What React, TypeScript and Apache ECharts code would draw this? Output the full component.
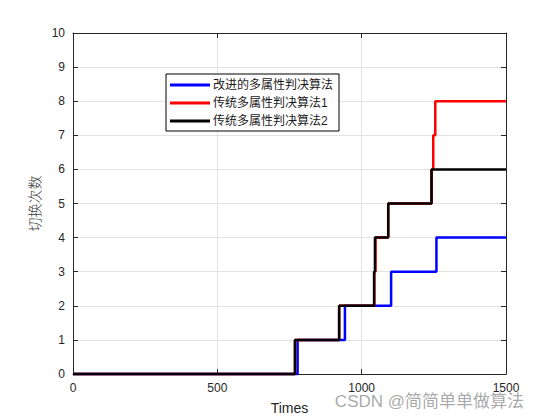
import React, { useEffect, useRef } from "react";
import * as echarts from "echarts";

const seriesNames = ["改进的多属性判决算法", "传统多属性判决算法1", "传统多属性判决算法2"];
const seriesColors = ["#0000ff", "#ff0000", "#000000"];

const blueTimes = [0, 778, 942, 1102, 1259, 1500];
const blueCounts = [0, 1, 2, 3, 4, 4];

const redTimes = [0, 769, 922, 1044, 1048, 1092, 1242, 1248, 1255, 1500];
const redCounts = [0, 1, 2, 3, 4, 5, 6, 7, 8, 8];

const blackTimes = [0, 769, 922, 1043, 1046, 1092, 1242, 1500];
const blackCounts = [0, 1, 2, 3, 4, 5, 6, 6];

const xTicks = [0, 500, 1000, 1500];
const yTicks = [0, 1, 2, 3, 4, 5, 6, 7, 8, 9, 10];

const xName = "Times";
const yName = "切换次数";
const watermark = "CSDN @简简单单做算法";

const zip = (xs: number[], ys: number[]) => xs.map((x, i) => [x, ys[i]]);

export default function App() {
  const ref = useRef<HTMLDivElement>(null);
  useEffect(() => {
    if (!ref.current) return;
    const chart = echarts.init(ref.current, undefined, { renderer: "svg" });
    const axisColor = "#262626";
    const gridColor = "#e3e3e3";
    const font = "Liberation Sans, Arial, Noto Sans CJK SC, sans-serif";
    const xMin = xTicks[0];
    const xMax = xTicks[xTicks.length - 1];
    const xInt = xTicks[1] - xTicks[0];
    const yMin = yTicks[0];
    const yMax = yTicks[yTicks.length - 1];
    const yInt = yTicks[1] - yTicks[0];
    const datasets = [zip(blueTimes, blueCounts), zip(redTimes, redCounts), zip(blackTimes, blackCounts)];
    chart.setOption({
      animation: false,
      backgroundColor: "#ffffff",
      grid: { left: 73, right: 54, top: 33, bottom: 45, show: false },
      xAxis: [
        {
          type: "value",
          min: xMin,
          max: xMax,
          interval: xInt,
          position: "bottom",
          name: xName,
          nameLocation: "middle",
          nameGap: 27,
          nameTextStyle: { color: axisColor, fontSize: 14, fontFamily: font },
          axisLine: { show: true, lineStyle: { color: axisColor, width: 1 } },
          axisTick: { show: true, inside: true, length: 5, lineStyle: { color: axisColor } },
          axisLabel: { color: axisColor, fontSize: 12, fontFamily: font, margin: 8, formatter: (v: number) => String(v) },
          splitLine: { show: true, lineStyle: { color: gridColor, width: 1 } },
        },
        {
          type: "value",
          min: xMin,
          max: xMax,
          interval: xInt,
          position: "top",
          axisLine: { show: true, onZero: false, lineStyle: { color: axisColor, width: 1 } },
          axisTick: { show: true, inside: true, length: 5, lineStyle: { color: axisColor } },
          axisLabel: { show: false },
          splitLine: { show: false },
        },
      ],
      yAxis: [
        {
          type: "value",
          min: yMin,
          max: yMax,
          interval: yInt,
          position: "left",
          name: yName,
          nameLocation: "middle",
          nameGap: 30,
          nameRotate: 90,
          nameTextStyle: { color: "#404040", fontSize: 14, fontWeight: 300, fontFamily: "Noto Sans CJK SC, sans-serif" },
          axisLine: { show: true, lineStyle: { color: axisColor, width: 1 } },
          axisTick: { show: true, inside: true, length: 5, lineStyle: { color: axisColor } },
          axisLabel: { color: axisColor, fontSize: 12, fontFamily: font, margin: 8 },
          splitLine: { show: true, lineStyle: { color: gridColor, width: 1 } },
        },
        {
          type: "value",
          min: yMin,
          max: yMax,
          interval: yInt,
          position: "right",
          axisLine: { show: true, onZero: false, lineStyle: { color: axisColor, width: 1 } },
          axisTick: { show: true, inside: true, length: 5, lineStyle: { color: axisColor } },
          axisLabel: { show: false },
          splitLine: { show: false },
        },
      ],
      legend: {
        orient: "vertical",
        left: 166,
        top: 74,
        icon: "rect",
        itemWidth: 40,
        itemHeight: 3,
        itemGap: 6,
        padding: [5, 6, 4, 4],
        borderColor: "#000000",
        borderWidth: 1,
        backgroundColor: "#ffffff",
        textStyle: { color: "#1a1a1a", fontSize: 12, fontFamily: "Liberation Sans, Noto Sans CJK SC, sans-serif", padding: [0, 0, 0, -2] },
        data: seriesNames,
      },
      graphic: [
        {
          type: "text",
          right: 36,
          bottom: 10,
          style: {
            text: watermark,
            fill: "rgba(140,140,140,0.75)",
            fontSize: 17,
            fontFamily: "Liberation Sans, Noto Sans CJK SC, sans-serif",
          },
          z: 100,
        },
      ],
      series: seriesNames.map((name, i) => ({
        name,
        type: "line",
        step: "end",
        data: datasets[i],
        symbol: "none",
        showSymbol: false,
        color: seriesColors[i],
        lineStyle: { color: seriesColors[i], width: 2.5 },
        z: 2 + i,
        clip: false,
      })),
    });
    return () => chart.dispose();
  }, []);
  return <div ref={ref} style={{ width: 560, height: 420, position: "absolute", left: 0, top: 0 }} />;
}
